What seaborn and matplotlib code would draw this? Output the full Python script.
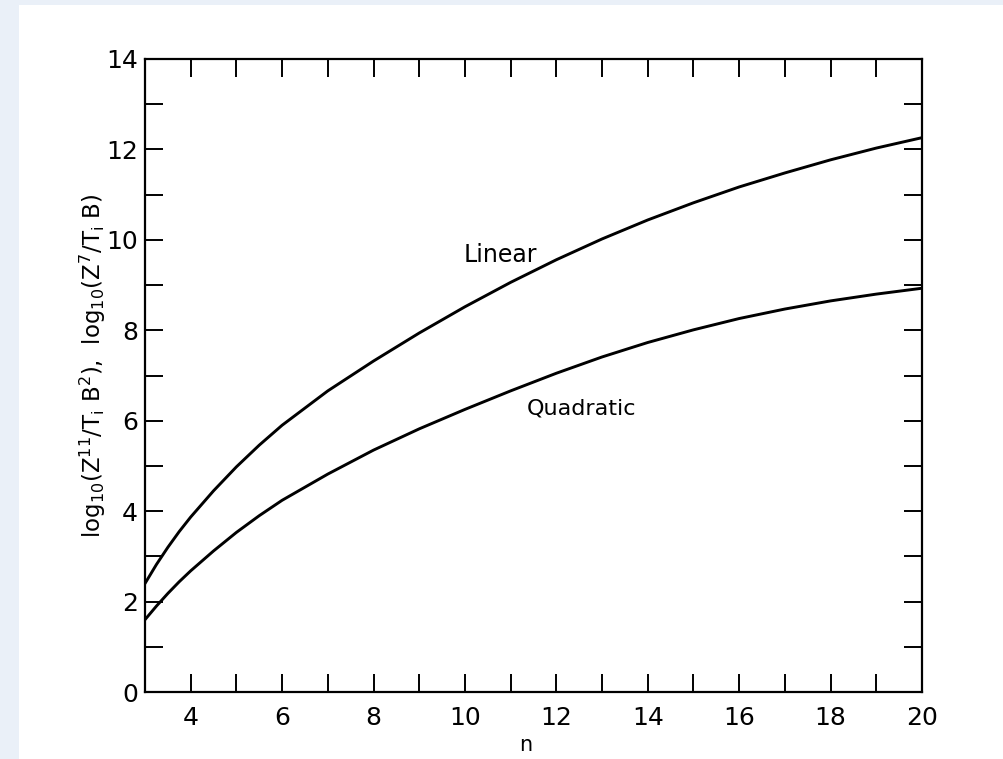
import matplotlib
matplotlib.use("Agg")
import matplotlib.pyplot as plt
from matplotlib.patches import Rectangle
from matplotlib.ticker import MultipleLocator
import seaborn as sns
import pandas as pd

# ---- data ----
n_values = [3, 3.25, 3.5, 3.75, 4, 4.5, 5, 5.5, 6, 7, 8, 9, 10, 11, 12, 13, 14, 15, 16, 17, 18, 19, 20]
linear_values = [2.4, 2.82, 3.2, 3.55, 3.87, 4.45, 4.98, 5.46, 5.9, 6.66, 7.32, 7.94, 8.52, 9.06,
                 9.56, 10.02, 10.44, 10.82, 11.17, 11.48, 11.77, 12.03, 12.26]
quadratic_values = [1.6, 1.9, 2.18, 2.44, 2.68, 3.12, 3.53, 3.9, 4.24, 4.82, 5.35, 5.82, 6.25,
                    6.66, 7.05, 7.41, 7.73, 8.01, 8.26, 8.47, 8.65, 8.8, 8.93]
series_names = ["Linear", "Quadratic"]
x_tick_labels = [4, 6, 8, 10, 12, 14, 16, 18, 20]
y_tick_labels = [0, 2, 4, 6, 8, 10, 12, 14]

df = pd.DataFrame({
    "n": n_values * 2,
    "value": linear_values + quadratic_values,
    "curve": [series_names[0]] * len(n_values) + [series_names[1]] * len(n_values),
})

sns.set_theme(style="ticks")
plt.rcParams["font.family"] = ["DejaVu Sans"]

fig = plt.figure(figsize=(10.04, 7.59), dpi=100, facecolor="white")
# light blue scan frame on the left and top
fig.patches.append(Rectangle((0, 0), 19 / 1004, 1, transform=fig.transFigure,
                             facecolor="#eaf0f8", edgecolor="none", zorder=-10))
fig.patches.append(Rectangle((0, 1 - 5 / 759), 1, 5 / 759, transform=fig.transFigure,
                             facecolor="#eaf0f8", edgecolor="none", zorder=-10))
ax = fig.add_axes([145 / 1004, 1 - 692 / 759, 777 / 1004, 633 / 759])
ax.set_facecolor("white")

sns.lineplot(data=df, x="n", y="value", hue="curve", palette=["black", "black"],
             linewidth=2.1, legend=False, ax=ax, sort=True)
for line in ax.get_lines():
    line.set_solid_joinstyle("round")

ax.set_xlim(3, 20)
ax.set_ylim(0, 14)
ax.set_xticks(x_tick_labels)
ax.set_xticklabels([str(v) for v in x_tick_labels])
ax.set_yticks(y_tick_labels)
ax.set_yticklabels([str(v) for v in y_tick_labels])
ax.xaxis.set_minor_locator(MultipleLocator(1))
ax.yaxis.set_minor_locator(MultipleLocator(1))

for which in ("major", "minor"):
    ax.tick_params(axis="both", which=which, direction="in", length=13, width=1.4,
                   color="black", top=True, right=True)
ax.tick_params(axis="x", which="major", labelsize=18, pad=10, labelcolor="black")
ax.tick_params(axis="y", which="major", labelsize=18, pad=5, labelcolor="black")

for sp in ax.spines.values():
    sp.set_linewidth(1.6)
    sp.set_color("black")

ax.set_xlabel("n", fontsize=15, color="black")
ax.set_ylabel(r"log$_{10}$(Z$^{11}$/T$_\mathrm{i}$ B$^2$),  log$_{10}$(Z$^7$/T$_\mathrm{i}$ B)",
              fontsize=16.5, color="black")
ax.xaxis.set_label_coords(0.49, -0.068)
ax.yaxis.set_label_coords(-0.047, 0.515)

ax.text(10.77, 9.67, series_names[0], fontsize=17, ha="center", va="center", color="black")
ax.text(12.56, 6.27, series_names[1], fontsize=16, ha="center", va="center", color="black")

fig.savefig("out.png", dpi=100, facecolor=fig.get_facecolor())
